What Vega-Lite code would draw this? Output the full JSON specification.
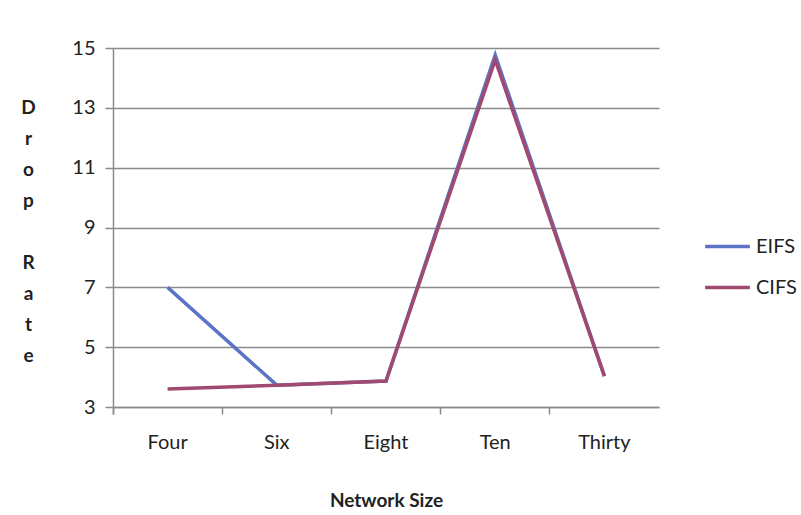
{
  "$schema": "https://vega.github.io/schema/vega-lite/v6.json",
  "width": 546,
  "height": 359,
  "autosize": {"type": "none"},
  "padding": {"left": 113, "top": 48, "right": 142, "bottom": 108},
  "background": "white",
  "config": {
    "font": "Lato",
    "view": {"stroke": null},
    "axis": {"labelFont": "Lato", "titleFont": "Lato", "labelColor": "#222222", "titleColor": "#222222", "labelFontSize": 20, "titleFontSize": 19}
  },
  "data": {
    "values": [
      {"size": "Four", "series": "EIFS", "rate": 7.0},
      {"size": "Six", "series": "EIFS", "rate": 3.73},
      {"size": "Eight", "series": "EIFS", "rate": 3.87},
      {"size": "Ten", "series": "EIFS", "rate": 14.77},
      {"size": "Thirty", "series": "EIFS", "rate": 4.03},
      {"size": "Four", "series": "CIFS", "rate": 3.6},
      {"size": "Six", "series": "CIFS", "rate": 3.73},
      {"size": "Eight", "series": "CIFS", "rate": 3.87},
      {"size": "Ten", "series": "CIFS", "rate": 14.6},
      {"size": "Thirty", "series": "CIFS", "rate": 4.03}
    ]
  },
  "mark": {"type": "line", "strokeWidth": 3.5},
  "encoding": {
    "x": {
      "field": "size",
      "type": "nominal",
      "sort": ["Four", "Six", "Eight", "Ten", "Thirty"],
      "scale": {"type": "band", "paddingInner": 0, "paddingOuter": 0},
      "axis": {
        "title": "Network Size",
        "titleFontWeight": "bold",
        "titlePadding": 39,
        "labelAngle": 0,
        "labelPadding": 18,
        "bandPosition": 0,
        "tickExtra": true,
        "tickSize": 7,
        "tickColor": "#8a8a8a",
        "tickWidth": 1.5,
        "domainColor": "#8a8a8a",
        "domainWidth": 1.5,
        "grid": false
      }
    },
    "y": {
      "field": "rate",
      "type": "quantitative",
      "scale": {"domain": [3, 15], "nice": false, "zero": false},
      "axis": {
        "values": [3, 5, 7, 9, 11, 13, 15],
        "title": ["D", "r", "o", "p", "\u200b", "R", "a", "t", "e"],
        "titleAngle": 0,
        "titleFontWeight": "bold",
        "titleLineHeight": 31,
        "titleAlign": "center",
        "titleBaseline": "middle",
        "titleX": -85,
        "titleY": 59,
        "labelPadding": 10,
        "tickSize": 8,
        "tickColor": "#8a8a8a",
        "tickWidth": 1.5,
        "domainColor": "#8a8a8a",
        "domainWidth": 1.5,
        "gridColor": "#8a8a8a",
        "gridWidth": 1.5
      }
    },
    "color": {
      "field": "series",
      "type": "nominal",
      "scale": {"domain": ["EIFS", "CIFS"], "range": ["#5b74c6", "#a14a6f"]},
      "legend": {
        "title": null,
        "orient": "none",
        "legendX": 590,
        "legendY": 174,
        "symbolType": "stroke",
        "symbolSize": 2000,
        "symbolStrokeWidth": 3.5,
        "labelFontSize": 20,
        "labelFont": "Lato",
        "labelColor": "#222222",
        "labelOffset": 4,
        "rowPadding": 6
      }
    }
  }
}
